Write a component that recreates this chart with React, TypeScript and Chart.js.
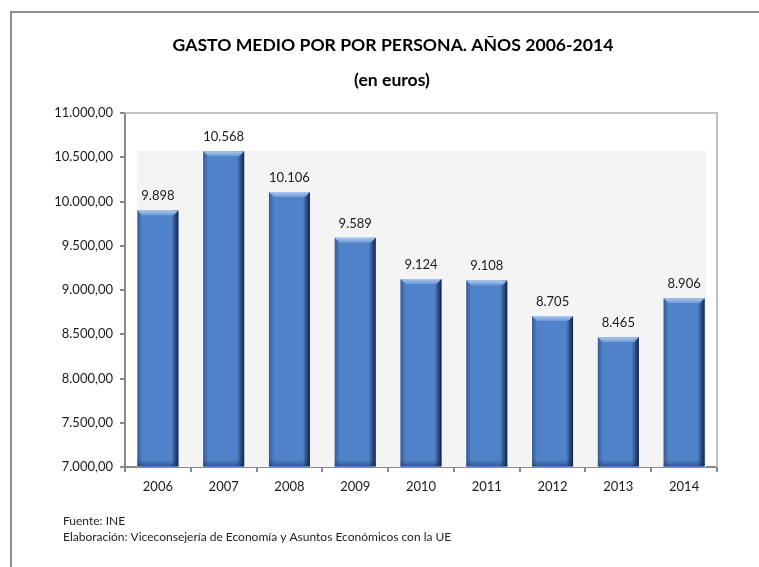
import React, { useEffect, useRef } from "react";
import { Chart, registerables } from "chart.js";

Chart.register(...registerables);

const categories = ["2006", "2007", "2008", "2009", "2010", "2011", "2012", "2013", "2014"];
const values = [9898, 10568, 10106, 9589, 9124, 9108, 8705, 8465, 8906];
const yMin = 7000;
const yMax = 11000;
const yStep = 500;
const titleLines = ["GASTO MEDIO POR POR PERSONA. AÑOS 2006-2014", "(en euros)"];
const footnotes = ["Fuente: INE", "Elaboración: Viceconsejería de Economía y Asuntos Económicos con la UE"];

const FONT = "Lato, 'Noto Sans', sans-serif";

function fmtThousands(n: number): string {
  const s = Math.round(n).toString();
  return s.replace(/\B(?=(\d{3})+(?!\d))/g, ".");
}
function fmtTick(n: number): string {
  return fmtThousands(n) + ",00";
}

const decorPlugin = {
  id: "decor",
  beforeDraw(chart: any) {
    const ctx = chart.ctx;
    ctx.save();
    ctx.fillStyle = "#ffffff";
    ctx.fillRect(0, 0, chart.width, chart.height);
    // outer frame
    ctx.strokeStyle = "#8e8e8e";
    ctx.lineWidth = 2;
    ctx.strokeRect(11, 12, chart.width + 20, chart.height + 20);
    // titles
    ctx.fillStyle = "#000";
    ctx.textAlign = "center";
    ctx.textBaseline = "middle";
    ctx.font = `bold 17.6px ${FONT}`;
    ctx.fillText(titleLines[0], 393, 45);
    ctx.fillText(titleLines[1], 392, 80);
    // footnotes
    ctx.textAlign = "left";
    ctx.font = `12px ${FONT}`;
    ctx.fillStyle = "#222";
    ctx.fillText(footnotes[0], 63, 521);
    ctx.fillText(footnotes[1], 63, 537);
    ctx.restore();
  },
  beforeDatasetsDraw(chart: any) {
    const ctx = chart.ctx;
    const a = chart.chartArea;
    ctx.save();
    // back wall
    ctx.fillStyle = "#f4f4f4";
    ctx.fillRect(a.left + 12, a.top + 38, a.right - 11 - (a.left + 12), a.bottom - (a.top + 38));
    // frame (top + right)
    ctx.strokeStyle = "#c2c2c2";
    ctx.lineWidth = 2;
    ctx.beginPath();
    ctx.moveTo(a.left, a.top);
    ctx.lineTo(a.right, a.top);
    ctx.lineTo(a.right, a.bottom);
    ctx.stroke();
    ctx.restore();
  },
  afterDatasetsDraw(chart: any) {
    const ctx = chart.ctx;
    const a = chart.chartArea;
    const meta = chart.getDatasetMeta(0);
    ctx.save();
    meta.data.forEach((bar: any, i: number) => {
      const p = bar.getProps(["x", "y", "base", "width"], true);
      const l = p.x - p.width / 2;
      const r = p.x + p.width / 2;
      const t = p.y;
      const b = Math.min(p.base, a.bottom - 1);
      // left edge slightly dark
      let g = ctx.createLinearGradient(l, 0, l + 5, 0);
      g.addColorStop(0, "rgba(30,60,110,0.55)");
      g.addColorStop(1, "rgba(30,60,110,0)");
      ctx.fillStyle = g;
      ctx.fillRect(l, t, 5, b - t);
      // right edge dark
      g = ctx.createLinearGradient(r - 7, 0, r, 0);
      g.addColorStop(0, "rgba(20,40,80,0)");
      g.addColorStop(0.5, "rgba(20,40,80,0.55)");
      g.addColorStop(1, "rgba(15,30,60,0.95)");
      ctx.fillStyle = g;
      ctx.fillRect(r - 7, t, 7, b - t);
      // bottom edge
      g = ctx.createLinearGradient(0, b - 6, 0, b);
      g.addColorStop(0, "rgba(20,40,80,0)");
      g.addColorStop(1, "rgba(20,40,80,0.45)");
      ctx.fillStyle = g;
      ctx.fillRect(l, b - 6, r - l, 6);
      // top bevel
      ctx.beginPath();
      ctx.moveTo(l, t);
      ctx.lineTo(r, t);
      ctx.lineTo(r - 5, t + 5);
      ctx.lineTo(l + 5, t + 5);
      ctx.closePath();
      g = ctx.createLinearGradient(0, t, 0, t + 5);
      g.addColorStop(0, "#a9c6ee");
      g.addColorStop(1, "#6b97d6");
      ctx.fillStyle = g;
      ctx.fill();
      // value label
      ctx.fillStyle = "#1a1a1a";
      ctx.font = `13px ${FONT}`;
      ctx.textAlign = "center";
      ctx.textBaseline = "bottom";
      ctx.fillText(fmtThousands(values[i]), p.x, t - 8);
    });
    ctx.restore();
  },
};

export default function App() {
  const ref = useRef<HTMLCanvasElement | null>(null);
  useEffect(() => {
    if (!ref.current) return;
    const chart = new Chart(ref.current, {
      type: "bar",
      data: {
        labels: categories,
        datasets: [
          {
            data: values,
            backgroundColor: "#4f82c8",
            borderWidth: 0,
            categoryPercentage: 1,
            barPercentage: 0.623,
          },
        ],
      },
      options: {
        responsive: false,
        animation: false,
        layout: { padding: { top: 113, right: 42, bottom: 70, left: 0 } },
        plugins: { legend: { display: false }, tooltip: { enabled: false }, title: { display: false } },
        scales: {
          x: {
            afterFit: (s: any) => {
              s.height = 30;
            },
            grid: { display: true, drawOnChartArea: false, drawTicks: true, tickLength: 5, color: "#8a8a8a", offset: true, lineWidth: 2 },
            border: { display: true, color: "#8a8a8a", width: 2 },
            ticks: { color: "#1a1a1a", font: { family: FONT, size: 13 }, padding: 7 },
          },
          y: {
            min: yMin,
            max: yMax,
            afterFit: (s: any) => {
              s.width = 125;
            },
            grid: { display: true, drawOnChartArea: false, drawTicks: true, tickLength: 5, color: "#8a8a8a", lineWidth: 2 },
            border: { display: true, color: "#8a8a8a", width: 2 },
            ticks: {
              stepSize: yStep,
              color: "#1a1a1a",
              font: { family: FONT, size: 13 },
              padding: 7,
              callback: (v: any) => fmtTick(Number(v)),
            },
          },
        },
      },
      plugins: [decorPlugin],
    } as any);
    return () => chart.destroy();
  }, []);
  return (
    <div style={{ position: "absolute", left: 0, top: 0, width: 759, height: 567, background: "#fff" }}>
      <canvas ref={ref} width={759} height={567} style={{ display: "block", width: 759, height: 567 }} />
    </div>
  );
}
